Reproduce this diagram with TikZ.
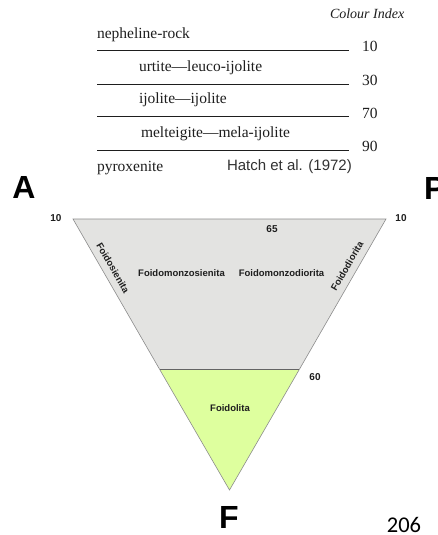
\documentclass[tikz,border=0pt]{standalone}
\usepackage{fontspec}
\setmainfont{Liberation Serif}
\newfontfamily\arialf{Liberation Sans}
\newfontfamily\calibrif{Carlito}
\definecolor{ink}{RGB}{30,30,30}
\definecolor{greyfill}{RGB}{227,227,225}
\definecolor{greenfill}{RGB}{222,255,158}
\definecolor{edgegrey}{RGB}{140,140,140}
\definecolor{darkline}{RGB}{100,100,100}
\begin{document}
\begin{tikzpicture}[x=1pt,y=-1pt,
  every node/.style={inner sep=0pt,outer sep=0pt,text=ink},
  serif/.style={font=\fontsize{15.5}{18}\selectfont,anchor=base west},
  cinum/.style={font=\fontsize{15.5}{18}\selectfont,anchor=base west},
  rule/.style={draw=ink,line width=1pt},
  big/.style={font=\arialf\bfseries\fontsize{32}{36}\selectfont,text=black},
  lab/.style={font=\arialf\bfseries\fontsize{9.5}{11}\selectfont},
  num/.style={font=\arialf\bfseries\fontsize{10}{12}\selectfont},
  zone/.style={draw=edgegrey,line width=0.6pt,line join=miter}]
\useasboundingbox (0,0) rectangle (437,535);
\fill[white] (0,0) rectangle (437,535);

% table
\node[anchor=base west,font=\itshape\fontsize{14}{16}\selectfont] (ci) at (330,18.5) {Colour Index};
\node[serif] (t0) at (97,38.5) {nepheline-rock};
\coordinate (l1a) at (97,50.5); \coordinate (l1b) at (349,50.5);
\draw[rule] (l1a) -- (l1b);
\node[cinum] (n10) at (362,52) {10};
\node[serif] (t1) at (139,71.5) {urtite—leuco-ijolite};
\coordinate (l2a) at (97,84); \coordinate (l2b) at (349,84);
\draw[rule] (l2a) -- (l2b);
\node[cinum] (n30) at (362,85.5) {30};
\node[serif] (t2) at (139,103.5) {ijolite—ijolite};
\coordinate (l3a) at (97,116.5); \coordinate (l3b) at (349,116.5);
\draw[rule] (l3a) -- (l3b);
\node[cinum] (n70) at (362,118) {70};
\node[serif] (t3) at (141,137) {melteigite—mela-ijolite};
\coordinate (l4a) at (97,150); \coordinate (l4b) at (349,150);
\draw[rule] (l4a) -- (l4b);
\node[cinum] (n90) at (362,151) {90};
\node[serif] (t4) at (97,171) {pyroxenite};
\node[anchor=base west,font=\arialf\fontsize{15}{18}\selectfont,text={rgb,255:red,50;green,50;blue,50}] (hatch) at (227,170.5) {Hatch et al. (1972)};

% corner letters
\node[big,anchor=base] (A) at (24,198) {A};
\node[big,anchor=base west] (P) at (424,199) {P};
\node[big,anchor=base] (F) at (229,528) {F};

% triangle
\coordinate (tl) at (73,219);
\coordinate (tr) at (386,219);
\coordinate (ml) at (159.6,369.3);
\coordinate (mr) at (299.4,369.3);
\coordinate (bot) at (229.5,490);
\fill[greyfill] (tl) -- (tr) -- (mr) -- (ml) -- cycle;
\fill[greenfill] (ml) -- (mr) -- (bot) -- cycle;
\draw[zone] (ml) -- (tl) -- (tr) -- (mr);
\draw[zone] (mr) -- (bot) -- (ml);
\draw[darkline,line width=1.1pt] (ml) -- (mr);

% labels
\node[num] (n10l) at (56,218) {10};
\node[num] (n10r) at (401,218) {10};
\node[num] (n65) at (272,229) {65};
\node[num] (n60) at (315,377) {60};
\node[lab] (fms) at (181.5,273) {Foidomonzosienita};
\node[lab] (fmd) at (281.5,273) {Foidomonzodiorita};
\node[lab,rotate=-60] (fs) at (113,268) {Foidosienita};
\node[lab,rotate=60] (fd) at (347,266) {Foidodiorita};
\node[lab] (fl) at (230,408) {Foidolita};

% page number
\node[anchor=base,font=\calibrif\fontsize{22.5}{26}\selectfont,text=black] (pg) at (404,532) {206};
\end{tikzpicture}
\end{document}
